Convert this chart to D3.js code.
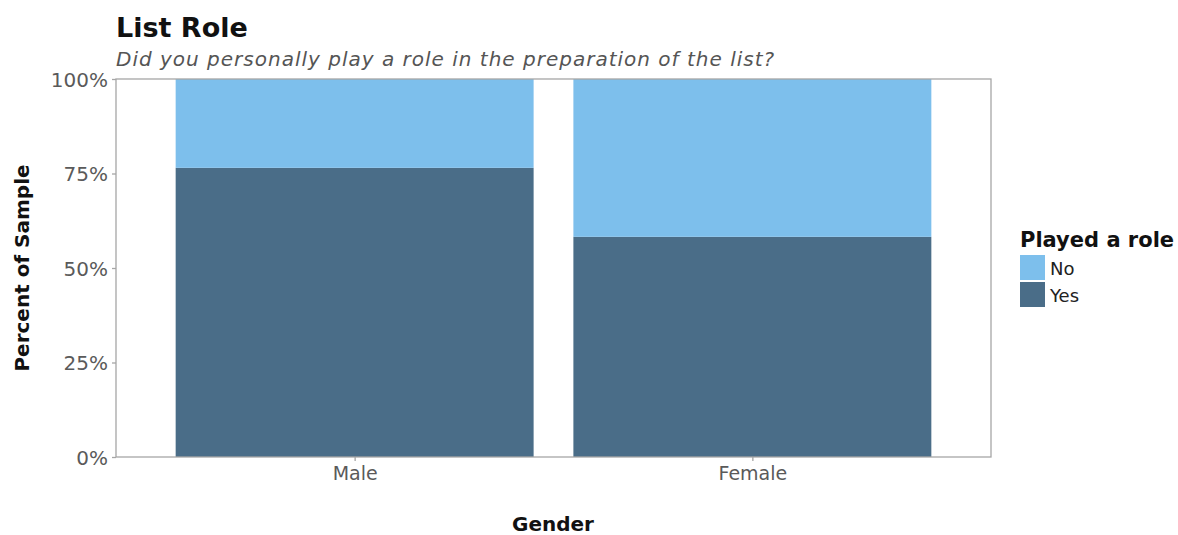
<!DOCTYPE html>
<html><head><meta charset="utf-8">
<script src="https://cdn.jsdelivr.net/npm/d3@7"></script>
<style>body{margin:0;background:#fff}svg{display:block}text{font-family:"DejaVu Sans",sans-serif}</style>
</head><body>
<script>
const categories = ["Male", "Female"];
const responses = ["No", "Yes"];
const yesShare = [0.765, 0.5825];
const noShare = [0.235, 0.4175];
const yTicks = [0, 0.25, 0.5, 0.75, 1];
const tickLabels = ["0%", "25%", "50%", "75%", "100%"];
const colors = {No: "#7dbfec", Yes: "#4a6d88"};

const W = 1178, H = 535;
const m = {left: 116, right: 991, top: 79, bottom: 457};
const svg = d3.select("body").append("svg").attr("width", W).attr("height", H);

// ggplot-like discrete x: bar width 0.9, expansion 0.6
const x = d3.scaleLinear().domain([0.4, categories.length + 0.6]).range([m.left, m.right]);
const y = d3.scaleLinear().domain([0, 1]).range([m.bottom, m.top]);

const rows = categories.map((c, i) => ({cat: c, i: i + 1, Yes: yesShare[i], No: noShare[i]}));
const stack = d3.stack().keys(["Yes", "No"])(rows);

svg.append("g").selectAll("g").data(stack).join("g")
  .attr("fill", d => colors[d.key])
  .selectAll("rect").data(d => d).join("rect")
  .attr("x", d => x(d.data.i - 0.45))
  .attr("width", d => x(d.data.i + 0.45) - x(d.data.i - 0.45))
  .attr("y", d => y(d[1]))
  .attr("height", d => y(d[0]) - y(d[1]));

// panel border
svg.append("rect").attr("x", m.left).attr("y", m.top)
  .attr("width", m.right - m.left).attr("height", m.bottom - m.top)
  .attr("fill", "none").attr("stroke", "#a6a6a6").attr("stroke-width", 1.3);

// y axis
const yAxis = d3.axisLeft(y).tickValues(yTicks).tickFormat((d, i) => tickLabels[i]).tickSize(4).tickPadding(4);
const gy = svg.append("g").attr("transform", `translate(${m.left},0)`).call(yAxis);
gy.select(".domain").remove();
gy.selectAll("line").attr("stroke", "#a6a6a6").attr("stroke-width", 1.3);
gy.selectAll("text").attr("fill", "#5a5a5a").style("font-size", "20px").attr("dy", "0.36em");

// x axis
const xAxis = d3.axisBottom(x).tickValues(rows.map(r => r.i)).tickFormat((d, i) => categories[i]).tickSize(4).tickPadding(6);
const gx = svg.append("g").attr("transform", `translate(0,${m.bottom})`).call(xAxis);
gx.select(".domain").remove();
gx.selectAll("line").attr("stroke", "#a6a6a6").attr("stroke-width", 1.3);
gx.selectAll("text").attr("fill", "#5a5a5a").style("font-size", "19px");

// titles
svg.append("text").attr("x", 116).attr("y", 37).text("List Role")
  .style("font-size", "27px").style("font-weight", "bold").attr("fill", "#111");
svg.append("text").attr("x", 116).attr("y", 66).text("Did you personally play a role in the preparation of the list?")
  .style("font-size", "20px").style("font-style", "italic").style("letter-spacing", "1px").attr("fill", "#555");
svg.append("text").attr("transform", `translate(29,${(m.top + m.bottom) / 2}) rotate(-90)`)
  .attr("text-anchor", "middle").text("Percent of Sample")
  .style("font-size", "20px").style("font-weight", "bold").attr("fill", "#111");
svg.append("text").attr("x", 553).attr("y", 531).attr("text-anchor", "middle")
  .text("Gender").style("font-size", "20px").style("font-weight", "bold").attr("fill", "#111");

// legend
const lg = svg.append("g").attr("transform", "translate(1020,0)");
lg.append("text").attr("x", 0).attr("y", 247).text("Played a role")
  .style("font-size", "21px").style("font-weight", "bold").attr("fill", "#111");
responses.forEach((r, i) => {
  lg.append("rect").attr("x", 0).attr("y", 255 + i * 27).attr("width", 25).attr("height", 25).attr("fill", colors[r]);
  lg.append("text").attr("x", 30).attr("y", 275 + i * 27).text(r)
    .style("font-size", "18px").attr("fill", "#222");
});
</script>
</body></html>
